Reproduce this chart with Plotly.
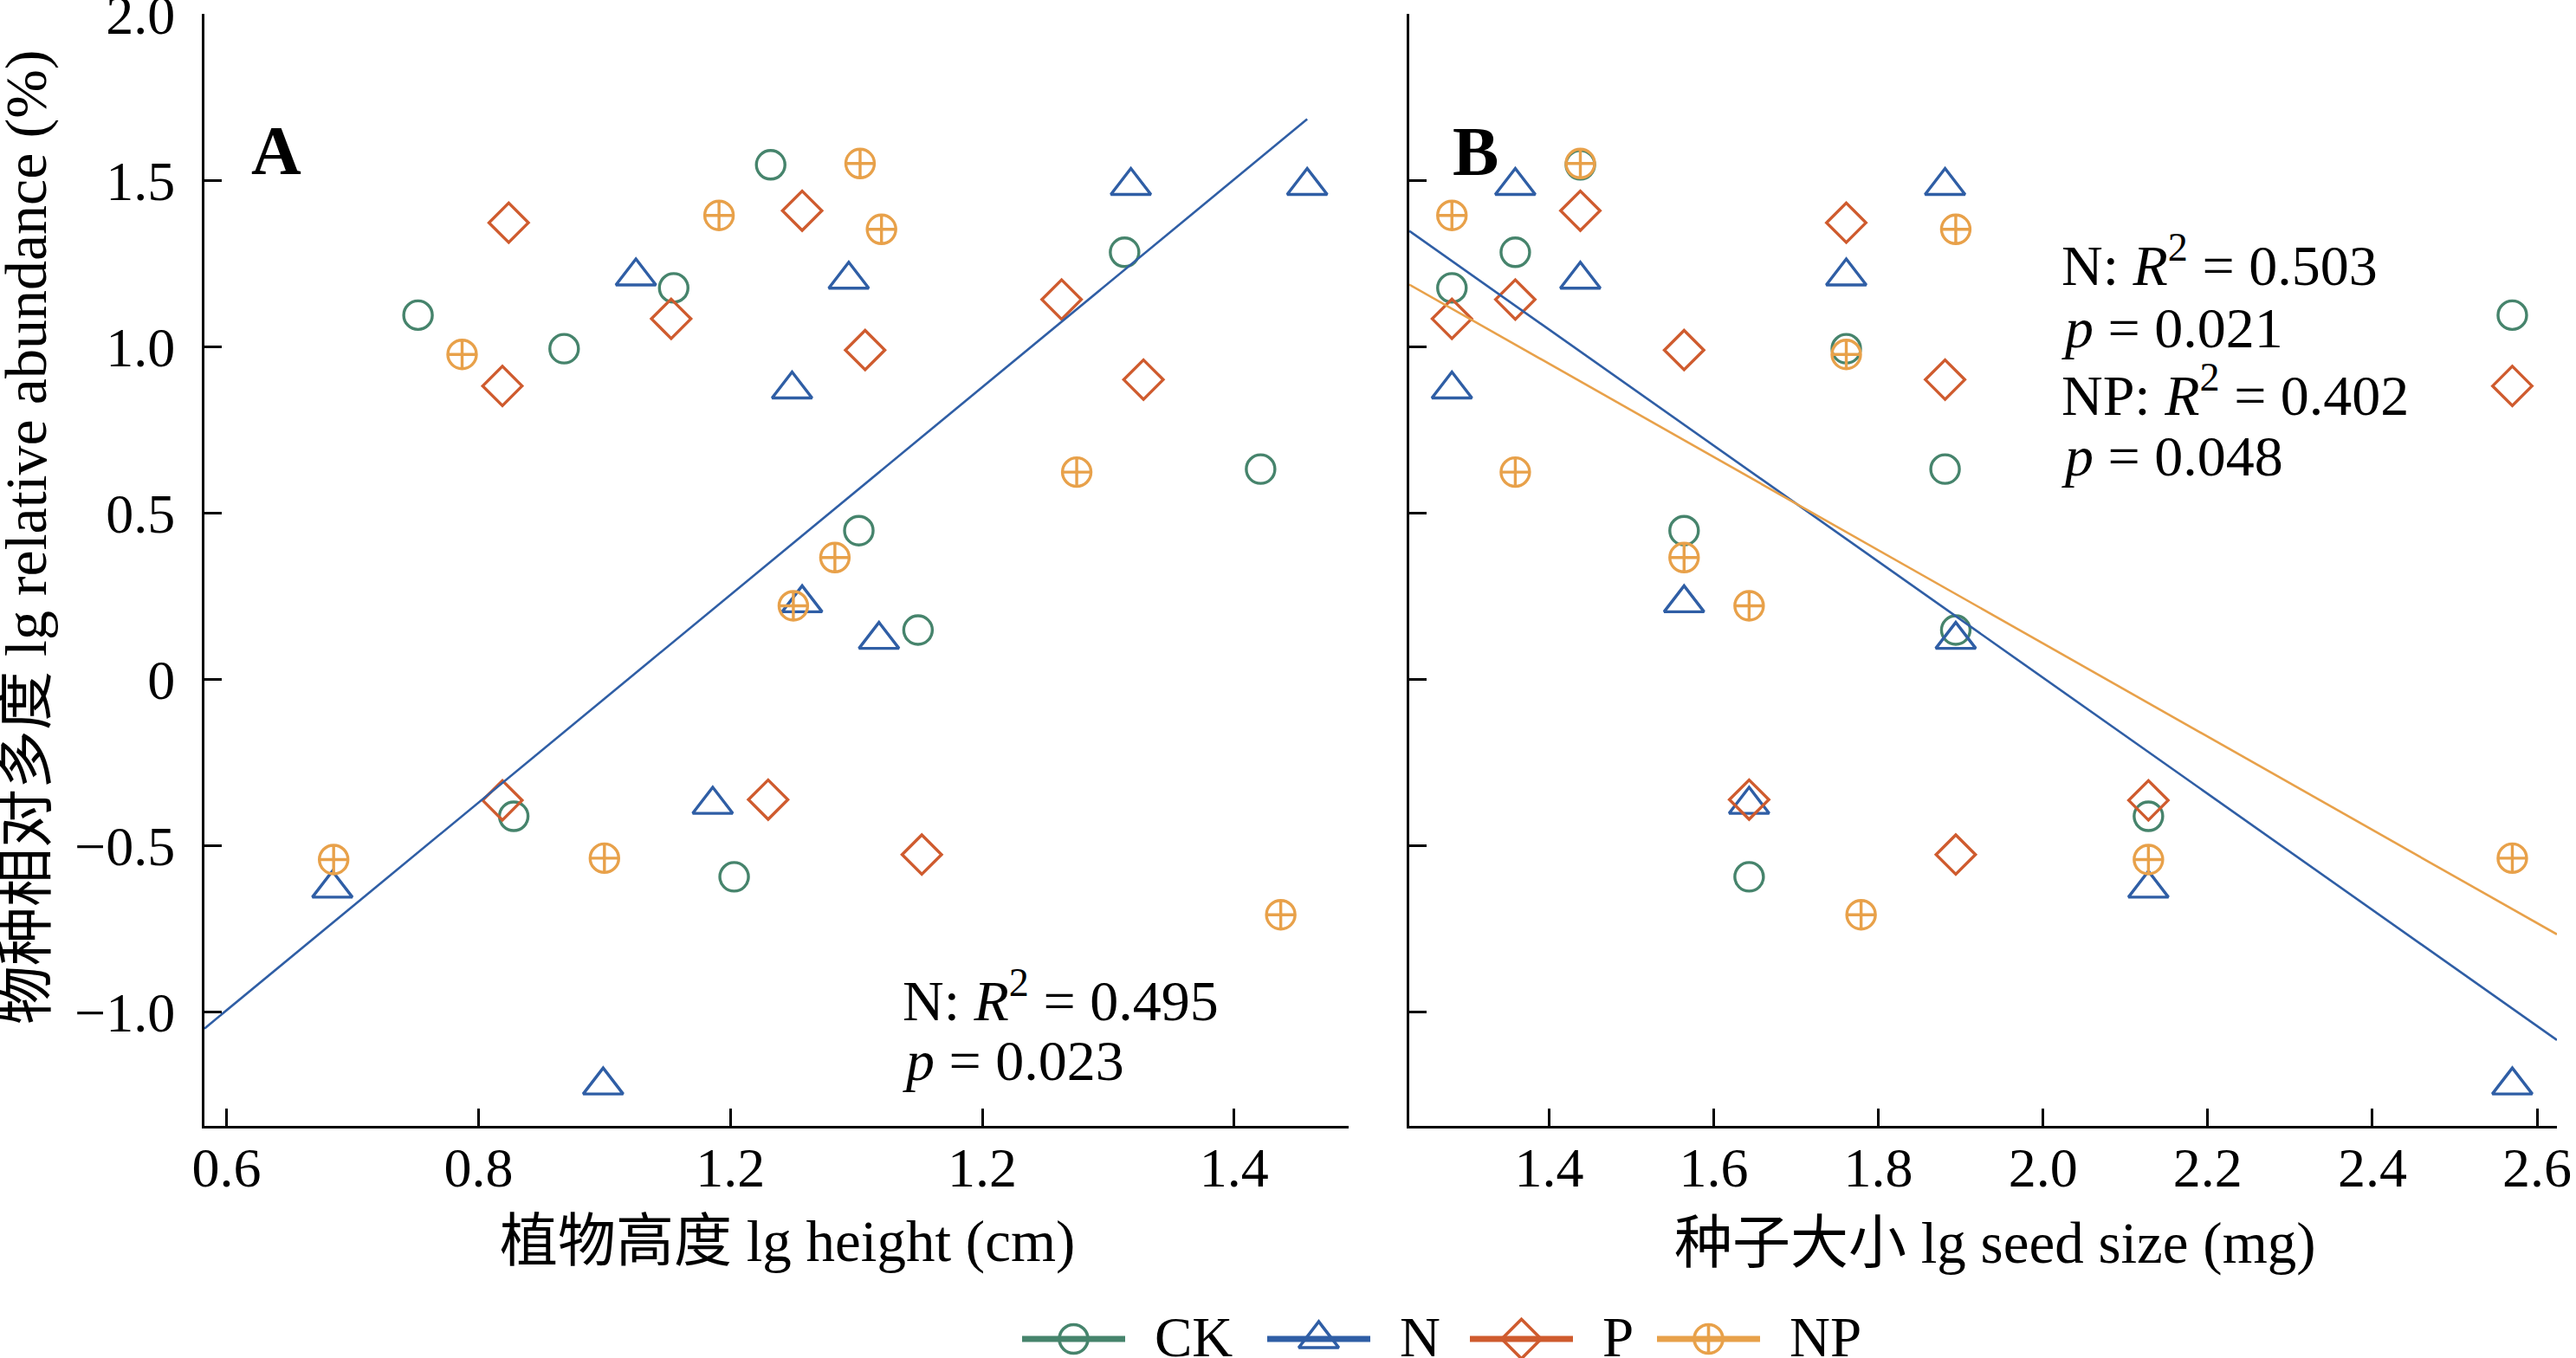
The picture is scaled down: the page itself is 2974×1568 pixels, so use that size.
import numpy as np
import plotly.graph_objects as go

# ---------------- data ----------------
treatments = ["CK", "N", "P", "NP"]

ck_height = [0.955, 1.313, 1.032, 1.102, 1.003, 0.868, 1.421, 1.149, 0.828, 0.752]
ck_seed = [1.282, 1.359, 1.438, 1.564, 1.643, 1.761, 1.881, 1.894, 2.128, 2.570]
ck_abund = [1.178, 1.285, 1.548, 0.448, -0.593, 0.995, 0.633, 0.149, -0.411, 1.096]

n_height = [1.049, 1.318, 1.094, 1.057, 0.986, 0.925, 1.458, 1.118, 0.684, 0.899]
n_seed = [1.282, 1.359, 1.438, 1.564, 1.643, 1.761, 1.881, 1.894, 2.128, 2.570]
n_abund = [0.873, 1.485, 1.203, 0.230, -0.376, 1.213, 1.485, 0.120, -0.628, -1.220]

p_height = [0.953, 1.263, 1.057, 1.107, 1.030, 0.824, 1.328, 1.152, 0.819, 0.819]
p_seed = [1.282, 1.359, 1.438, 1.564, 1.643, 1.761, 1.881, 1.894, 2.128, 2.570]
p_abund = [1.085, 1.143, 1.410, 0.991, -0.361, 1.374, 0.902, -0.526, -0.363, 0.883]

np_height = [0.991, 1.275, 1.103, 1.083, 1.050, 0.787, 1.437, 1.120, 0.685, 0.900]
np_seed = [1.282, 1.359, 1.438, 1.564, 1.643, 1.761, 1.779, 1.894, 2.128, 2.570]
np_abund = [1.396, 0.624, 1.552, 0.367, 0.222, 0.978, -0.707, 1.354, -0.541, -0.537]

y_tickvals = [-1.0, -0.5, 0.0, 0.5, 1.0, 1.5, 2.0]
y_ticktext = ["\u22121.0", "\u22120.5", "0", "0.5", "1.0", "1.5", "2.0"]
xa_tickvals = [0.6, 0.8, 1.0, 1.2, 1.4]
xa_ticktext = ["0.6", "0.8", "1.2", "1.2", "1.4"]
xb_tickvals = [1.4, 1.6, 1.8, 2.0, 2.2, 2.4, 2.6]
xb_ticktext = ["1.4", "1.6", "1.8", "2.0", "2.2", "2.4", "2.6"]

stats_a = ["N: <i>R</i><sup>2</sup> = 0.495", "<i>p</i> = 0.023"]
stats_b = ["N: <i>R</i><sup>2</sup> = 0.503", "<i>p</i> = 0.021",
           "NP: <i>R</i><sup>2</sup> = 0.402", "<i>p</i> = 0.048"]

# ---------------- styling / layout constants ----------------
W, H = 2974, 1568
SERIF = "Liberation Serif, Times New Roman, Noto Sans CJK SC, serif"
FS_TICK = 64
FS_TITLE = 67
FS_YTITLE = 68
FS_STAT = 66
FS_LEG = 65

colors = {"CK": "#46846C", "N": "#2F5EA5", "P": "#CF5B2E", "NP": "#E8A14A"}
symbols = {"CK": "circle-open", "N": "triangle-up-open", "P": "diamond-open", "NP": "circle-cross-open"}
msize = {"CK": 33, "N": 40, "P": 35, "NP": 33}

series = {
    "CK": (ck_height, ck_seed, ck_abund),
    "N": (n_height, n_seed, n_abund),
    "P": (p_height, p_seed, p_abund),
    "NP": (np_height, np_seed, np_abund),
}

def px_x(p):
    return p / W

def px_y(p):
    return (H - p) / H

xa_range = [0.5824, 1.4909]
xb_range = [1.2302, 2.6242]
y_range = [-1.342, 2.002]

fig = go.Figure()

for t in treatments:
    h, s, a = series[t]
    common = dict(mode="markers", showlegend=False, cliponaxis=False,
                  marker=dict(symbol=symbols[t], size=msize[t], color=colors[t],
                              line=dict(width=3.4, color=colors[t])))
    fig.add_trace(go.Scatter(x=h, y=a, xaxis="x", yaxis="y", name=t, **common))
    fig.add_trace(go.Scatter(x=s, y=a, xaxis="x2", yaxis="y2", name=t, **common))

# regression lines (fitted from the data)
sa, ia = np.polyfit(n_height, n_abund, 1)
xa_line = np.array([xa_range[0], max(n_height)])
fig.add_trace(go.Scatter(x=xa_line, y=sa * xa_line + ia, mode="lines", xaxis="x", yaxis="y",
                         line=dict(color=colors["N"], width=2.6), showlegend=False))

for t in ("N", "NP"):
    h, s, a = series[t]
    sb, ib = np.polyfit(s, a, 1)
    xb_line = np.array(xb_range)
    fig.add_trace(go.Scatter(x=xb_line, y=sb * xb_line + ib, mode="lines", xaxis="x2", yaxis="y2",
                             line=dict(color=colors[t], width=2.6), showlegend=False))

# legend drawn on an overlay axis measured in page pixels
leg_line_x0 = [1180, 1463, 1697, 1913]
leg_line_len = 119
leg_text_gap = 32
leg_y = H - 1546
for t, x0 in zip(treatments, leg_line_x0):
    fig.add_trace(go.Scatter(x=[x0, x0 + leg_line_len], y=[leg_y, leg_y], mode="lines",
                             xaxis="x3", yaxis="y3", line=dict(color=colors[t], width=7),
                             showlegend=False, hoverinfo="skip", cliponaxis=False))
    fig.add_trace(go.Scatter(x=[x0 + leg_line_len / 2], y=[leg_y], mode="markers",
                             xaxis="x3", yaxis="y3", showlegend=False, hoverinfo="skip", cliponaxis=False,
                             marker=dict(symbol=symbols[t], size=msize[t], color=colors[t],
                                         line=dict(width=3.6, color=colors[t]))))

axis_common = dict(showline=True, linewidth=3, linecolor="black", ticks="inside", ticklen=20,
                   tickwidth=2.6, tickcolor="black", showgrid=False, zeroline=False,
                   ticklabeloverflow="allow", automargin=False,
                   tickfont=dict(family=SERIF, size=FS_TICK, color="black"))

yd = [px_y(1300), px_y(16)]
fig.update_layout(
    width=W, height=H, margin=dict(l=0, r=0, t=0, b=0, autoexpand=False),
    paper_bgcolor="white", plot_bgcolor="white",
    font=dict(family=SERIF, size=FS_TICK, color="black"),
    xaxis=dict(domain=[px_x(236), px_x(1557)], range=xa_range, tickvals=xa_tickvals,
               ticktext=xa_ticktext, anchor="y", ticklabelstandoff=-10, **axis_common),
    yaxis=dict(domain=yd, range=y_range, tickvals=y_tickvals, ticktext=y_ticktext,
               anchor="x", ticklabelstandoff=18, **axis_common),
    xaxis2=dict(domain=[px_x(1627), px_x(2952)], range=xb_range, tickvals=xb_tickvals,
                ticktext=xb_ticktext, anchor="y2", ticklabelstandoff=-10, **axis_common),
    yaxis2=dict(domain=yd, range=y_range, tickvals=y_tickvals, anchor="x2",
                showticklabels=False, **axis_common),
    xaxis3=dict(domain=[0, 1], range=[0, W], visible=False, fixedrange=True, automargin=False),
    yaxis3=dict(domain=[0, 0.1], range=[0, H * 0.1], visible=False, fixedrange=True,
                anchor="x3", automargin=False),
)

ann = []
def text(x, y, s, size, xanchor="left", yanchor="middle", angle=0, xref="paper", yref="paper"):
    ann.append(dict(x=x, y=y, xref=xref, yref=yref, text=s, showarrow=False, xanchor=xanchor,
                    yanchor=yanchor, textangle=angle, font=dict(family=SERIF, size=size, color="black")))

# panel letters
text(px_x(319), px_y(174), "<b>A</b>", 80, xanchor="center")
text(px_x(1703), px_y(175), "<b>B</b>", 80, xanchor="center")

# statistics
text(px_x(1040), px_y(1150), stats_a[0], FS_STAT)
text(px_x(1040), px_y(1224), stats_a[1], FS_STAT)
for s, yy in zip(stats_b, [302, 378, 451, 526]):
    text(px_x(2378), px_y(yy), s, FS_STAT)

# axis titles
text(px_x(909), px_y(1433), "植物高度 lg height (cm)", FS_TITLE, xanchor="center")
text(px_x(2303), px_y(1435), "种子大小 lg seed size (mg)", FS_TITLE, xanchor="center")
text(px_x(30), px_y(621), "物种相对多度 lg relative abundance (%)", FS_YTITLE, xanchor="center", angle=-90)

# legend labels
for t, x0 in zip(treatments, leg_line_x0):
    text(x0 + leg_line_len + leg_text_gap, leg_y + 2, t, FS_LEG, xanchor="left", xref="x3", yref="y3")

fig.update_layout(annotations=ann)

fig.write_html("out.html", config={"displayModeBar": False},
               post_script="document.body.style.margin='0';document.body.style.overflow='hidden';")
